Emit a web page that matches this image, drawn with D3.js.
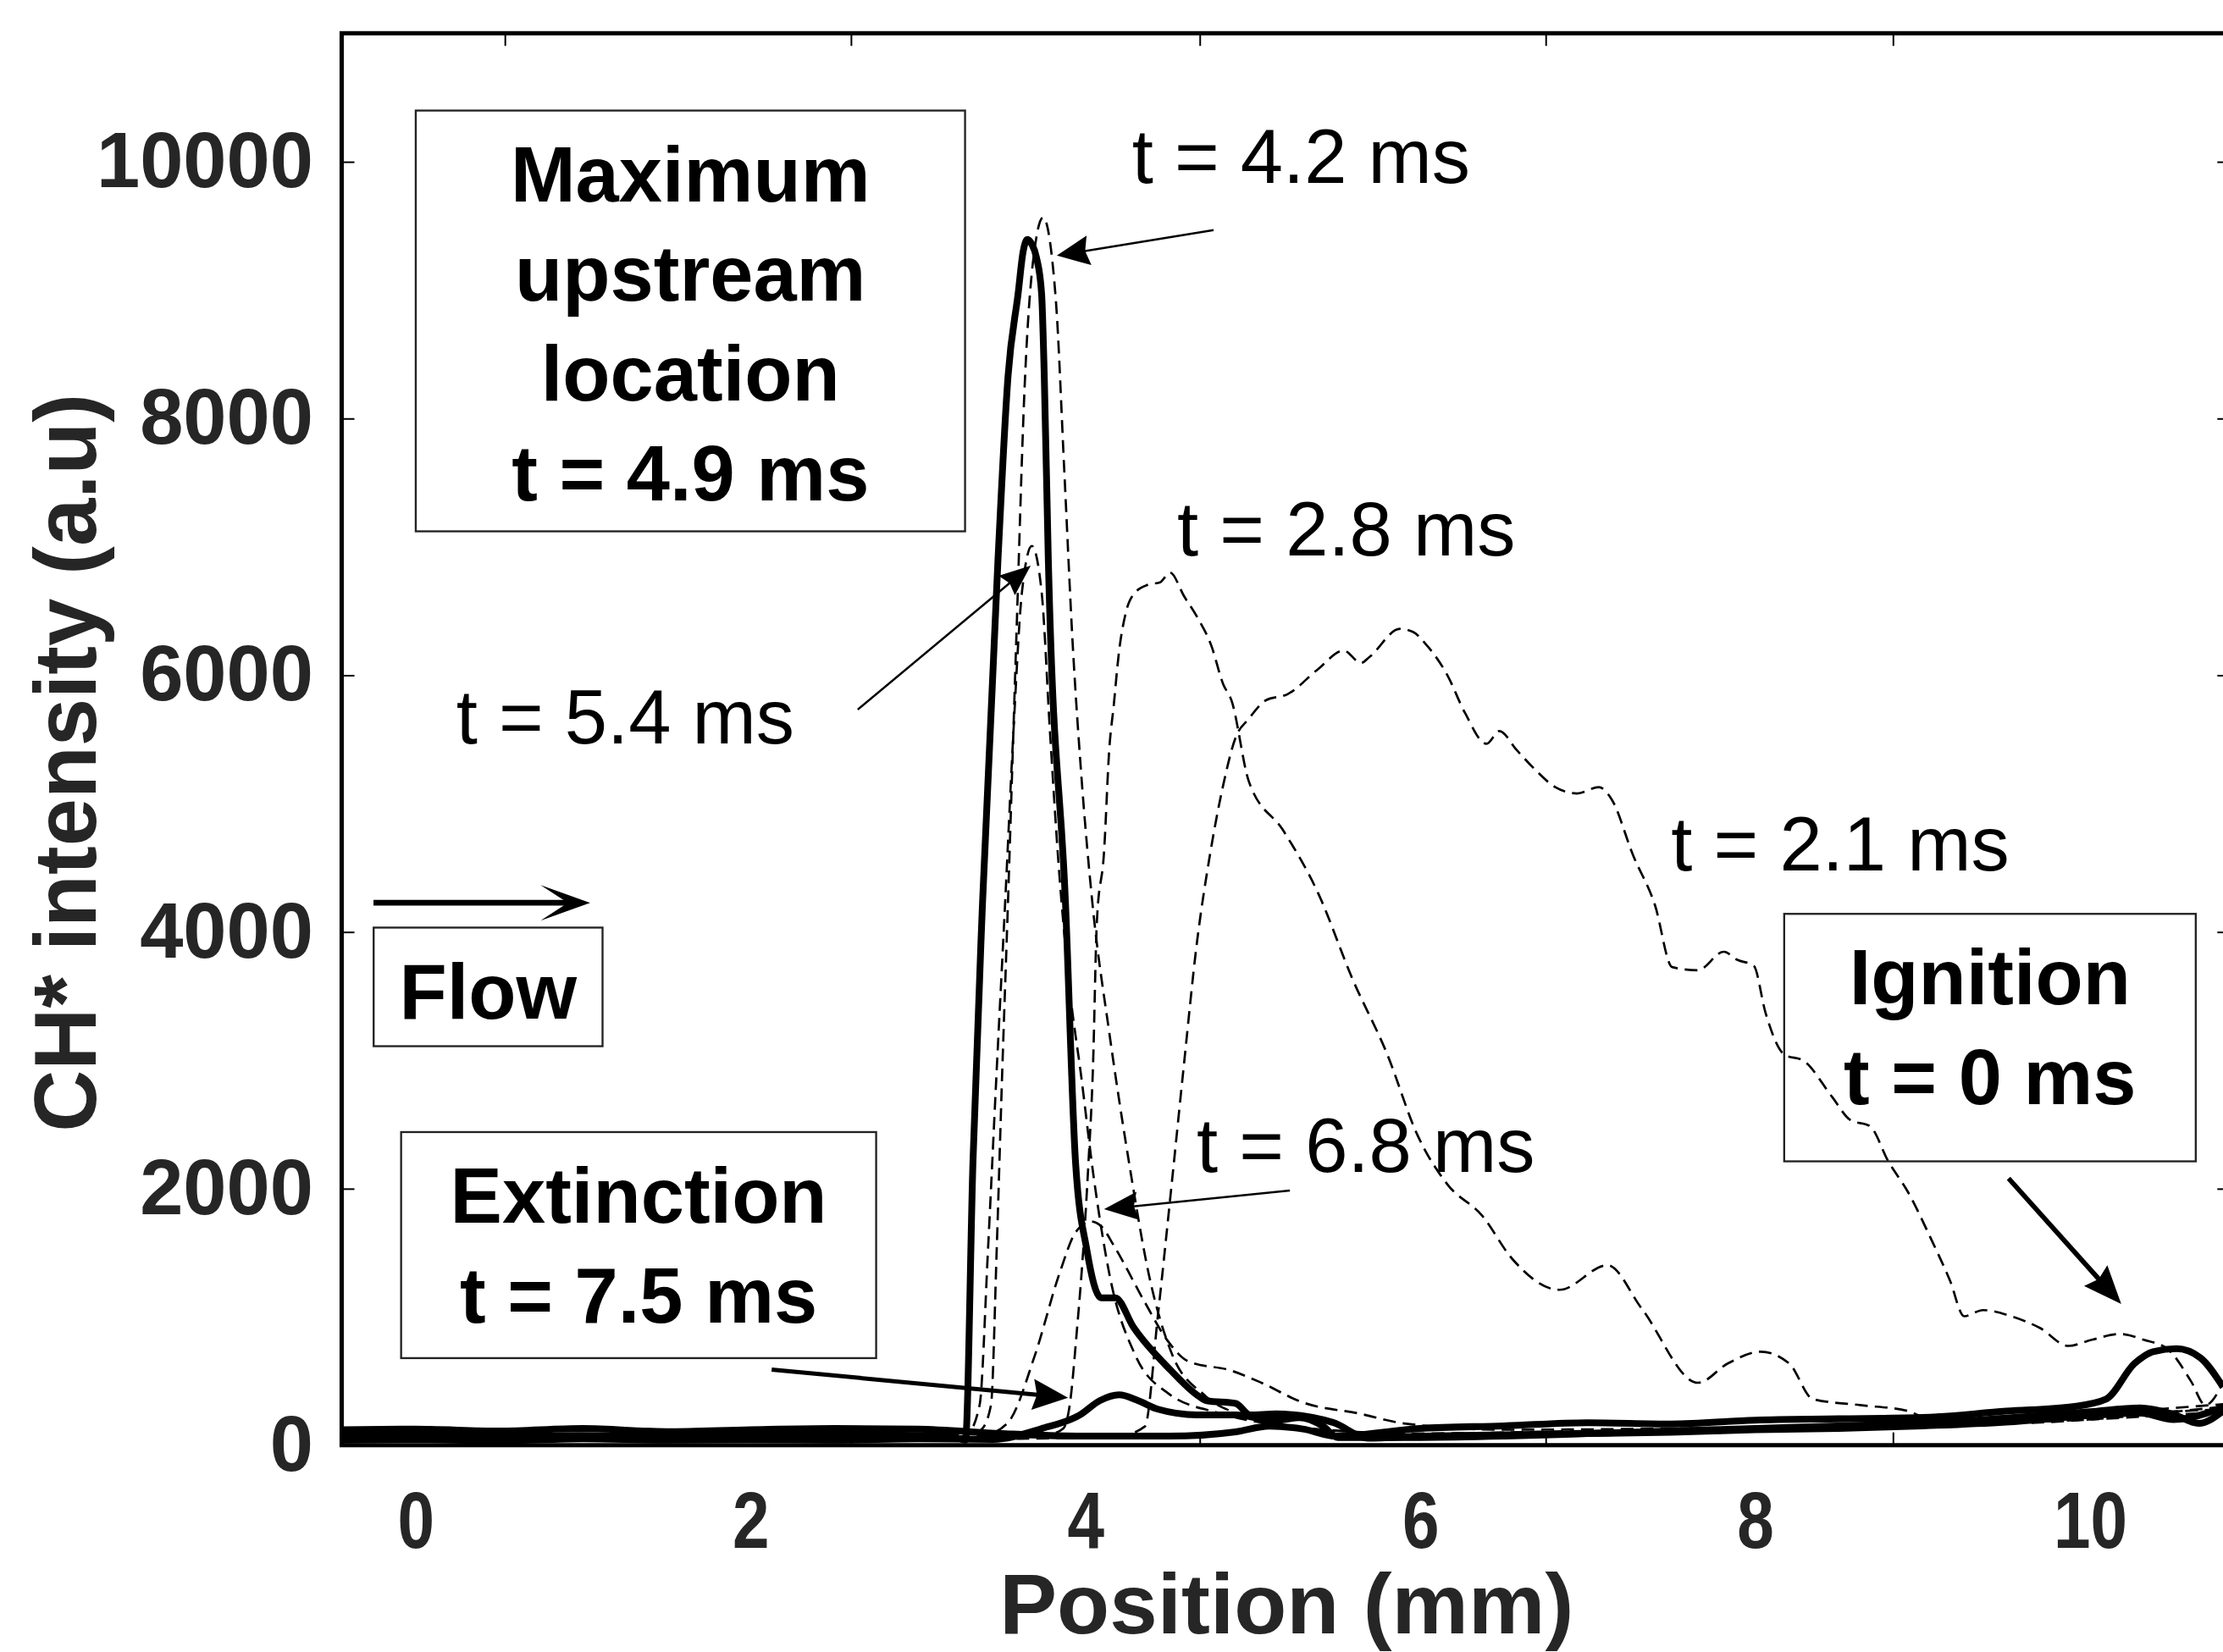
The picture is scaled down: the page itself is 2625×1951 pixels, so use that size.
<!DOCTYPE html>
<html><head><meta charset="utf-8">
<script src="https://cdn.jsdelivr.net/npm/d3@7/dist/d3.min.js"></script>
<style>html,body{margin:0;padding:0;background:#fff;overflow:hidden}</style>
</head><body>
<svg id="chart"></svg>
<script>
// ---------------- DATA (position in mm, CH* intensity in a.u.) ----------------
const xTickLabels = [0, 2, 4, 6, 8, 10];
const xTickMarks  = [0.533, 2.6, 4.683, 6.749, 8.823, 10.9];
const yTickValues = [0, 2000, 4000, 6000, 8000, 10000];

// t = 0 ms (ignition) - solid
const pos_t0 = [-0.44,0,0.5,1,1.5,2,2.5,3,3.5,4,4.5,4.9,5.1,5.3,5.5,6,6.5,7,7.5,8,8.5,9,9.5,9.9,10.097,10.267,10.378,10.518,10.66,10.796];
const val_t0 = [120,125,110,130,105,120,130,125,90,70,70,104,148,126,70,130,150,175,165,195,205,215,265,300,358,636,728,751,681,453];

// t = 2.1 ms - dashed
const pos_t21 = [-0.44,0.5,1.5,2.5,3.5,4.2,4.357,4.435,4.513,4.589,4.668,4.745,4.822,4.899,4.977,5.08,5.209,5.39,5.544,5.648,5.699,5.88,5.958,6.036,6.164,6.268,6.397,6.474,6.577,6.681,6.808,6.938,7.068,7.145,7.273,7.403,7.506,7.66,7.815,7.895,7.993,8.064,8.177,8.29,8.459,8.571,8.686,8.798,8.912,9.052,9.165,9.25,9.362,9.532,9.702,9.871,10.013,10.182,10.322,10.463,10.605,10.69,10.8];
const val_t21 = [40,50,45,55,50,70,146,1015,1983,2950,3918,4594,5126,5513,5658,5803,5850,6044,6190,6093,6141,6359,6336,6238,5997,5706,5464,5563,5416,5271,5126,5077,5126,5030,4594,4208,3724,3700,3844,3781,3735,3366,3042,2995,2717,2532,2486,2208,1977,1607,1283,1004,1052,1004,913,773,821,866,821,751,497,312,497];

// t = 2.8 ms - dashed
const pos_t28 = [-0.44,1,2,3,3.5,3.8,3.87,3.91,3.95,3.99,4.02,4.047,4.07,4.114,4.143,4.172,4.2,4.245,4.302,4.376,4.448,4.507,4.593,4.666,4.753,4.825,4.874,4.977,5.184,5.39,5.597,5.804,5.984,6.164,6.371,6.551,6.833,7.12,7.324,7.66,7.838,8.035,8.205,8.346,8.628,8.912,9.05,9.5,10,10.5,10.8];
const val_t28 = [40,45,50,55,60,90,130,330,880,1545,2200,2947,4073,4640,5397,5776,6154,6495,6646,6703,6722,6798,6609,6458,6231,5927,5802,5174,4787,4305,3631,3046,2418,2031,1788,1451,1210,1402,1064,486,636,728,636,359,312,267,199,170,200,260,300];

// t = 4.2 ms - dashed
const pos_t42 = [-0.44,1,2,3,3.3,3.38,3.438,3.472,3.504,3.539,3.588,3.639,3.707,3.749,3.825,3.876,3.926,3.977,4.044,4.145,4.263,4.382,4.517,4.716,4.97,5.31,6,7,8,9,10,10.8];
const val_t42 = [50,60,55,60,70,120,313,1523,2870,4216,6236,8252,9394,9564,8924,7580,6236,5225,4216,3207,2196,1321,715,386,220,130,90,110,120,150,230,280];

// t = 4.9 ms (maximum upstream location) - solid
const pos_t49 = [-0.44,0,0.5,1,1.5,2,2.5,3,3.2,3.285,3.33,3.387,3.48,3.54,3.6,3.63,3.655,3.68,3.71,3.74,3.756,3.78,3.883,3.943,4.01,4.095,4.18,4.29,4.51,4.68,4.727,4.9,4.985,5.14,5.48,5.69,6,6.5,7,7.5,8,8.5,9,9.5,10,10.3,10.5,10.7,10.8];
const val_t49 = [75,80,70,75,65,80,85,75,70,40,2200,4216,6910,8333,8973,9300,9393,9360,9250,8973,8333,6910,4216,2200,1523,1148,1148,916,585,380,346,325,236,243,177,55,70,80,90,100,120,130,150,180,230,250,200,250,300];

// t = 5.4 ms - dashed
const pos_t54 = [-0.44,1,2,3,3.3,3.37,3.42,3.47,3.522,3.572,3.622,3.682,3.741,3.79,3.84,3.909,3.977,4.05,4.15,4.3,4.5,4.8,5.2,6,8,10,10.8];
const val_t54 = [50,55,60,70,100,313,1523,2870,4216,5560,6636,7005,6636,5560,4553,3543,2870,2100,1300,700,400,250,150,90,120,200,260];

// t = 6.8 ms - dashed
const pos_t68 = [-0.44,1,2,3,3.4,3.54,3.7,3.85,3.943,4.036,4.1,4.175,4.357,4.488,4.616,4.874,5.055,5.287,5.648,5.905,6.5,7.5,8.5,9.5,10.2,10.8];
const val_t68 = [45,50,55,60,80,177,700,1350,1658,1742,1700,1547,1112,822,653,580,485,339,243,169,120,130,150,200,260,320];

// t = 7.5 ms (extinction) - solid
const pos_t75 = [-0.44,0,0.5,1,1.5,2,2.5,3,3.45,3.738,3.97,4.087,4.203,4.318,4.435,4.668,4.899,5.13,5.278,5.42,5.51,6,6.5,7,7.5,8,8.5,9,9.5,10,10.3,10.5,10.65,10.8];
const val_t75 = [40,45,35,50,40,45,40,50,45,128,236,346,392,346,280,236,236,192,214,148,60,60,70,90,110,130,150,170,210,260,290,240,170,270];

// ---------------- LAYOUT ----------------
const W = 1568, H = 1166;
const L = 241, R = 1573, T = 23.4, B = 1020;
const svg = d3.select('#chart')
  .attr('width', 2625).attr('height', 1951)
  .attr('viewBox', `0 0 ${W} ${H}`).attr('preserveAspectRatio', 'none')
  .style('display', 'block').style('background', '#fff');

const x = d3.scaleLinear().domain([-0.44, 10.838]).range([L, R]);
const y = d3.scaleLinear().domain([0, 11000]).range([B, T]);

const FONT = "'Liberation Sans', Arial, Helvetica, sans-serif";
const tickColor = '#262626';

svg.append('defs').append('clipPath').attr('id', 'plotclip')
  .append('rect').attr('x', L).attr('y', T).attr('width', R - L).attr('height', B - T);

// ---------------- SERIES ----------------
const series = [
  {name: 't = 2.1 ms', p: pos_t21, v: val_t21, dashed: true},
  {name: 't = 2.8 ms', p: pos_t28, v: val_t28, dashed: true},
  {name: 't = 4.2 ms', p: pos_t42, v: val_t42, dashed: true},
  {name: 't = 5.4 ms', p: pos_t54, v: val_t54, dashed: true},
  {name: 't = 6.8 ms', p: pos_t68, v: val_t68, dashed: true},
  {name: 't = 0 ms',   p: pos_t0,  v: val_t0,  dashed: false},
  {name: 't = 7.5 ms', p: pos_t75, v: val_t75, dashed: false},
  {name: 't = 4.9 ms', p: pos_t49, v: val_t49, dashed: false}
];

const line = d3.line().x(d => x(d[0])).y(d => y(d[1])).curve(d3.curveMonotoneX);
const gLines = svg.append('g').attr('clip-path', 'url(#plotclip)');
series.forEach(s => {
  const pts = s.p.map((p, i) => [p, s.v[i]]);
  gLines.append('path').datum(pts)
    .attr('d', line)
    .attr('fill', 'none')
    .attr('stroke', '#000')
    .attr('stroke-width', s.dashed ? 1.6 : 4.8)
    .attr('stroke-dasharray', s.dashed ? '9,5' : null)
    .attr('stroke-linejoin', 'round');
});

// ---------------- AXES ----------------
const yAx = svg.append('g').attr('transform', `translate(${L},0)`)
  .call(d3.axisLeft(y).tickValues(yTickValues).tickSizeInner(-9).tickSizeOuter(0).tickPadding(20).tickFormat(d3.format('d')));
yAx.select('.domain').remove();
yAx.selectAll('line').attr('stroke', '#000').attr('stroke-width', 1.2);
yAx.selectAll('text').attr('font-family', FONT).attr('font-weight', 'bold').attr('font-size', 55).attr('fill', tickColor);

const yAxR = svg.append('g').attr('transform', `translate(${R},0)`)
  .call(d3.axisRight(y).tickValues(yTickValues).tickSizeInner(-9).tickSizeOuter(0).tickFormat(''));
yAxR.select('.domain').remove();
yAxR.selectAll('line').attr('stroke', '#000').attr('stroke-width', 1.2);

const xMarkB = svg.append('g').attr('transform', `translate(0,${B})`)
  .call(d3.axisBottom(x).tickValues(xTickMarks).tickSizeInner(-9).tickSizeOuter(0).tickFormat(''));
xMarkB.select('.domain').remove();
xMarkB.selectAll('line').attr('stroke', '#000').attr('stroke-width', 1.2);

const xMarkT = svg.append('g').attr('transform', `translate(0,${T})`)
  .call(d3.axisTop(x).tickValues(xTickMarks).tickSizeInner(-9).tickSizeOuter(0).tickFormat(''));
xMarkT.select('.domain').remove();
xMarkT.selectAll('line').attr('stroke', '#000').attr('stroke-width', 1.2);

const xLab = svg.append('g').attr('transform', `translate(0,${B})`)
  .call(d3.axisBottom(x).tickValues(xTickLabels).tickSize(0).tickPadding(32).tickFormat(d3.format('d')));
xLab.select('.domain').remove();
xLab.selectAll('text').attr('font-family', FONT).attr('font-weight', 'bold').attr('font-size', 57)
  .attr('fill', tickColor).attr('transform', 'scale(0.82,1)');

// frame
const frame = svg.append('g').attr('stroke', '#000').attr('stroke-width', 3).attr('fill', 'none');
frame.append('path').attr('d', `M${R},${T} H${L} V${B} H${R}`).attr('stroke-linecap', 'square');

// axis titles
svg.append('text').attr('x', 907.5).attr('y', 1153).attr('text-anchor', 'middle')
  .attr('font-family', FONT).attr('font-weight', 'bold').attr('font-size', 60).attr('fill', tickColor)
  .attr('textLength', 405).attr('lengthAdjust', 'spacingAndGlyphs')
  .text('Position (mm)');
svg.append('text').attr('transform', 'translate(67.7,538.4) rotate(-90)').attr('text-anchor', 'middle')
  .attr('font-family', FONT).attr('font-weight', 'bold').attr('font-size', 62).attr('fill', tickColor)
  .attr('textLength', 521).attr('lengthAdjust', 'spacingAndGlyphs')
  .text('CH* intensity (a.u)');

// ---------------- ANNOTATIONS (data coordinates) ----------------
const ann = svg.append('g');
function arrow(p0, p1, sw, hl, hw, notch) {
  const x1 = x(p0[0]), y1 = y(p0[1]), x2 = x(p1[0]), y2 = y(p1[1]);
  const dx = x2 - x1, dy = y2 - y1, len = Math.hypot(dx, dy);
  const ux = dx / len, uy = dy / len, nx = -uy, ny = ux;
  const bx = x2 - ux * hl, by = y2 - uy * hl;
  const mx = x2 - ux * hl * (1 - notch), my = y2 - uy * hl * (1 - notch);
  ann.append('line').attr('x1', x1).attr('y1', y1).attr('x2', mx + ux * 2).attr('y2', my + uy * 2)
    .attr('stroke', '#000').attr('stroke-width', sw);
  ann.append('path')
    .attr('d', `M${x2},${y2} L${bx + nx * hw / 2},${by + ny * hw / 2} L${mx},${my} L${bx - nx * hw / 2},${by - ny * hw / 2} Z`)
    .attr('fill', '#000');
}
arrow([4.767, 9466], [3.831, 9267], 1.5, 23, 21, 0.12);   // 4.2
arrow([2.642, 5731], [3.675, 6852], 1.5, 22, 18, 0.12);   // 5.4
arrow([5.223, 1983], [4.113, 1838], 1.5, 24, 20, 0.12);   // 6.8
arrow([2.128, 589],  [3.898, 369],  3.0, 25, 22, 0.12);   // extinction
arrow([9.515, 2078], [10.188, 1099], 3.4, 27, 22, 0.12);  // ignition
arrow([-0.25, 4225], [1.044, 4225], 4.0, 35, 25, 0.55);   // flow

// plain time labels
const timeLabels = [
  {t: 't = 4.2 ms', p: [4.28, 9832]},
  {t: 't = 2.8 ms', p: [4.55, 6932]},
  {t: 't = 5.4 ms', p: [0.244, 5467]},
  {t: 't = 2.1 ms', p: [7.5, 4475]},
  {t: 't = 6.8 ms', p: [4.666, 2128]}
];
timeLabels.forEach(d => {
  ann.append('text').attr('x', x(d.p[0])).attr('y', y(d.p[1]))
    .attr('font-family', FONT).attr('font-size', 54).attr('fill', '#000').text(d.t);
});

// boxed labels
const boxes = [
  {lines: ['Maximum', 'upstream', 'location', 't = 4.9 ms'], x0: 0.0025, x1: 3.283, y0: 10397, y1: 7119},
  {lines: ['Flow'], x0: -0.249, x1: 1.118, y0: 4032, y1: 3108},
  {lines: ['Extinction', 't = 7.5 ms'], x0: -0.085, x1: 2.752, y0: 2439, y1: 678},
  {lines: ['Ignition', 't = 0 ms'], x0: 8.175, x1: 10.633, y0: 4139, y1: 2211}
];
boxes.forEach(b => {
  const bx = x(b.x0), bw = x(b.x1) - x(b.x0), by = y(b.y0), bh = y(b.y1) - y(b.y0);
  ann.append('rect').attr('x', bx).attr('y', by).attr('width', bw).attr('height', bh)
    .attr('fill', 'none').attr('stroke', '#222').attr('stroke-width', 1.4);
  b.lines.forEach((t, i) => {
    ann.append('text').attr('x', bx + bw / 2).attr('y', by + 64 + i * 70.3)
      .attr('text-anchor', 'middle').attr('font-family', FONT).attr('font-weight', 'bold')
      .attr('font-size', 55).attr('fill', '#000').text(t);
  });
});
</script>
</body></html>
